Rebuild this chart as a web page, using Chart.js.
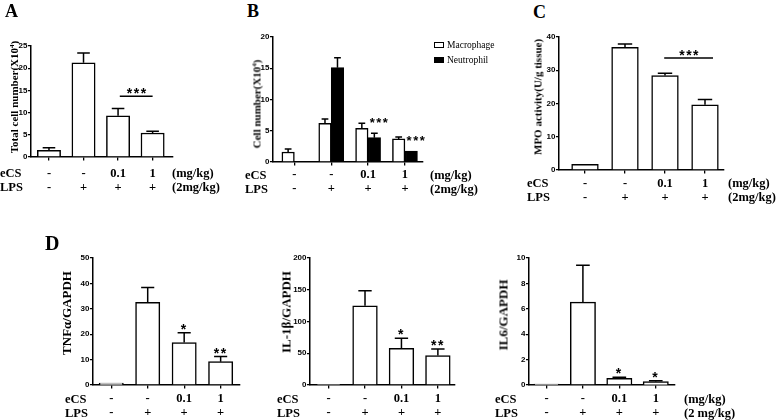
<!DOCTYPE html>
<html><head><meta charset="utf-8">
<script src="https://cdn.jsdelivr.net/npm/chart.js@4.4.0/dist/chart.umd.min.js"></script>
<style>
html,body{margin:0;padding:0;background:#fff;}
#wrap{position:relative;width:778px;height:420px;overflow:hidden;background:#fff;}
canvas{position:absolute;}
.t{position:absolute;font-family:'Liberation Serif','Times New Roman',serif;font-weight:bold;color:#000;white-space:nowrap;line-height:14px;font-size:12.5px;}
.rot{position:absolute;font-family:'Liberation Serif','Times New Roman',serif;font-weight:bold;white-space:nowrap;line-height:1;color:#000;transform:translate(-50%,-50%) rotate(-90deg);}
.letter{position:absolute;font-family:'Liberation Serif','Times New Roman',serif;font-weight:bold;line-height:1;color:#000;}
.sup{font-size:7px;vertical-align:4px;}
.leg{position:absolute;font-family:'Liberation Serif','Times New Roman',serif;font-size:9.5px;line-height:12px;color:#000;white-space:nowrap;}
.box{position:absolute;box-sizing:border-box;border:1.3px solid #000;}
</style></head><body><div id="wrap"></div>
<script>
// ---- data ----
const eCS = ['-', '-', '0.1', '1'];
const LPS = ['-', '+', '+', '+'];
const seriesNames = ['Macrophage', 'Neutrophil'];

const totalCells = [1.5, 21.2, 9.3, 5.4];
const totalCellsErr = [0.6, 2.2, 1.6, 0.4];
const sigA = {from: 2.05, to: 3.0, value: 13.7, text: '***'};

const macrophage = [1.6, 6.2, 5.4, 3.7];
const macrophageErr = [0.5, 0.7, 0.8, 0.3];
const neutrophil = [null, 15.1, 3.9, 1.75];
const neutrophilErr = [0, 1.6, 0.7, 0];
const neutrophilSig = ['', '', '***', '***'];

const mpo = [1.7, 36.9, 28.4, 19.6];
const mpoErr = [0, 1.0, 0.7, 1.6];
const sigC = {from: 1.98, to: 3.2, value: 33.7, text: '***'};

const tnf = [0.8, 32.5, 16.7, 9.2];
const tnfErr = [0.2, 5.9, 3.9, 2.0];
const tnfSig = ['', '', '*', '**'];

const il1b = [1, 124.7, 57.9, 46.3];
const il1bErr = [0, 23.7, 15.8, 10.5];
const il1bSig = ['', '', '*', '**'];

const il6 = [0.08, 6.53, 0.53, 0.26];
const il6Err = [0.02, 2.89, 0.09, 0.07];
const il6Sig = ['', '', '*', '*'];

// ---- drawing ----
const wrap = document.getElementById('wrap');

const annot = {
  id: 'annot',
  afterDatasetsDraw(chart, args, opts) {
    const ctx = chart.ctx;
    const ys = chart.scales.y, xs = chart.scales.x;
    chart.data.datasets.forEach((ds, di) => {
      const meta = chart.getDatasetMeta(di);
      meta.data.forEach((bar, i) => {
        const v = ds.data[i].y;
        if (v === null || v === undefined) return;
        const e = ds.err ? (ds.err[i] || 0) : 0;
        const w = bar.width;
        const top = ys.getPixelForValue(v);
        const capY = ys.getPixelForValue(v + e);
        ctx.save();
        ctx.strokeStyle = '#000';
        ctx.lineWidth = 1.5;
        if (top - capY > 0.6) {
          ctx.beginPath();
          ctx.moveTo(bar.x, top); ctx.lineTo(bar.x, capY);
          ctx.moveTo(bar.x - w * 0.27, capY); ctx.lineTo(bar.x + w * 0.27, capY);
          ctx.stroke();
        }
        const s = ds.sig ? ds.sig[i] : '';
        if (s) {
          ctx.font = 'bold ' + opts.starSize + 'px "Liberation Sans", Arial, sans-serif';
          ctx.letterSpacing = '1.5px';
          ctx.textAlign = 'center';
          ctx.textBaseline = 'alphabetic';
          ctx.fillStyle = '#000';
          ctx.fillText(s, bar.x + opts.starDx * w, capY + opts.starDy);
        }
        ctx.restore();
      });
    });
    const b = opts.bracket;
    if (b) {
      const y = ys.getPixelForValue(b.value);
      const x1 = xs.getPixelForValue(b.from), x2 = xs.getPixelForValue(b.to);
      ctx.save();
      ctx.strokeStyle = '#000'; ctx.lineWidth = 1.5;
      ctx.beginPath(); ctx.moveTo(x1, y); ctx.lineTo(x2, y); ctx.stroke();
      ctx.font = 'bold 14px "Liberation Sans", Arial, sans-serif';
      ctx.letterSpacing = '1.5px';
      ctx.textAlign = 'center'; ctx.textBaseline = 'alphabetic'; ctx.fillStyle = '#000';
      ctx.fillText(b.text, (x1 + x2) / 2 + 1, y + 2);
      ctx.restore();
    }
  }
};

function panel(p) {
  const yW = 30, padTop = 14, xH = 44;
  const left = p.axisX - yW, top = p.topY - padTop;
  const width = Math.round(yW + (p.endX - p.axisX) + p.padR);
  const height = Math.round(padTop + (p.zeroY - p.topY) + xH);
  const cv = document.createElement('canvas');
  cv.style.left = left + 'px'; cv.style.top = top + 'px';
  cv.style.width = width + 'px'; cv.style.height = height + 'px';
  cv.width = width; cv.height = height;
  wrap.appendChild(cv);
  const padRight = width - yW - (p.endX - p.axisX);
  new Chart(cv, {
    type: 'bar',
    data: {
      datasets: p.datasets.map(d => ({
        label: d.label,
        data: d.values.map((v, i) => ({x: i, y: v})),
        err: d.err, sig: d.sig,
        backgroundColor: d.fill, borderColor: '#000', borderWidth: 1.5,
        barThickness: p.barW, grouped: true
      }))
    },
    options: {
      responsive: false, animation: false,
      layout: {padding: {left: 0, top: padTop, right: padRight, bottom: 0}},
      plugins: {
        legend: {display: false}, tooltip: {enabled: false},
        annot: {starSize: p.starSize || 14, starDx: p.starDx || 0, starDy: p.starDy === undefined ? 1 : p.starDy, bracket: p.bracket}
      },
      scales: {
        x: {
          type: 'linear', min: p.xmin, max: p.xmax, offset: false,
          afterBuildTicks: s => { s.ticks = eCS.map((_, i) => ({value: i})); },
          afterFit: s => { s.height = xH; },
          grid: {display: true, offset: false, drawOnChartArea: false, drawTicks: true, tickLength: 3.5, color: '#000', lineWidth: 1.3},
          border: {display: true, color: '#000', width: 1.5},
          ticks: {
            autoSkip: false, maxRotation: 0, minRotation: 0, padding: p.tickPad, color: '#000',
            font: {family: '"Liberation Serif", "Times New Roman", serif', weight: 'bold', size: 12.5, lineHeight: '14px'},
            callback: v => [eCS[v], LPS[v]]
          }
        },
        y: {
          type: 'linear', min: 0, max: p.ymax,
          afterFit: s => { s.width = yW; },
          grid: {drawOnChartArea: false, drawTicks: true, tickLength: 3, color: '#000', lineWidth: 1.3},
          border: {display: true, color: '#000', width: 1.5},
          ticks: {stepSize: p.step, padding: 0.5, color: '#000',
            font: {family: '"Liberation Sans Narrow", "Liberation Sans", Arial, sans-serif', weight: 'bold', size: 8}}
        }
      }
    },
    plugins: [annot]
  });
}

const white = '#ffffff', black = '#000000';

panel({axisX: 31, topY: 45.7, zeroY: 156.7, endX: 173, xmin: -0.52, xmax: 3.59, ymax: 25, step: 5,
  barW: 23.3, padR: 6, tickPad: 5.8, bracket: sigA,
  datasets: [{label: 'Total', values: totalCells, err: totalCellsErr, fill: white}]});

panel({axisX: 273, topY: 37, zeroY: 162.3, endX: 423, xmin: -0.58, xmax: 3.49, ymax: 20, step: 5,
  barW: 12.5, padR: 14, tickPad: 2.2, starSize: 13, starDx: 0.42, starDy: -6.5,
  datasets: [
    {label: seriesNames[0], values: macrophage, err: macrophageErr, fill: white},
    {label: seriesNames[1], values: neutrophil, err: neutrophilErr, sig: neutrophilSig, fill: black}
  ]});

panel({axisX: 559, topY: 36.5, zeroY: 169.3, endX: 724, xmin: -0.65, xmax: 3.475, ymax: 40, step: 10,
  barW: 26.7, padR: 6, tickPad: 2.9, bracket: sigC,
  datasets: [{label: 'MPO', values: mpo, err: mpoErr, fill: white}]});

panel({axisX: 92.7, topY: 258.3, zeroY: 385, endX: 239.3, xmin: -0.5, xmax: 3.52, ymax: 50, step: 10,
  barW: 24.3, padR: 6, tickPad: 3.5,
  datasets: [{label: 'TNF', values: tnf, err: tnfErr, sig: tnfSig, fill: white}]});

panel({axisX: 310, topY: 258.3, zeroY: 385, endX: 455, xmin: -0.51, xmax: 3.47, ymax: 200, step: 50,
  barW: 24.7, padR: 6, tickPad: 3.5,
  datasets: [{label: 'IL1b', values: il1b, err: il1bErr, sig: il1bSig, fill: white}]});

panel({axisX: 529.3, topY: 258.3, zeroY: 385, endX: 675, xmin: -0.48, xmax: 3.52, ymax: 10, step: 2,
  barW: 25.3, padR: 6, tickPad: 3.5,
  datasets: [{label: 'IL6', values: il6, err: il6Err, sig: il6Sig, fill: white}]});

// ---- text labels ----
function txt(cls, html, left, top, extra) {
  const d = document.createElement('div');
  d.className = cls; d.innerHTML = html;
  d.style.left = left + 'px'; d.style.top = top + 'px';
  if (extra) Object.assign(d.style, extra);
  wrap.appendChild(d);
  return d;
}
function rows(left, y1, y2) {
  txt('t', 'eCS', left, y1 - 7);
  txt('t', 'LPS', left, y2 - 7);
}
function units(left, y1, y2, u1, u2) {
  txt('t', u1, left, y1 - 7);
  txt('t', u2, left, y2 - 7);
}
rows(0, 173, 187); units(172, 173, 187, '(mg/kg)', '(2mg/kg)');
rows(245, 175, 189); units(430, 175, 189, '(mg/kg)', '(2mg/kg)');
rows(527, 182.7, 196.7); units(728, 182.7, 196.7, '(mg/kg)', '(2mg/kg)');
rows(65, 399, 413);
rows(277, 399, 413);
rows(495, 399, 413); units(684, 399, 413, '(mg/kg)', '(2 mg/kg)');

txt('rot', 'Total cell number(X10<span class="sup">4</span>)', 13.5, 97, {fontSize: '11px'});
txt('rot', 'Cell number(X10<span class="sup">4</span>)', 257, 104, {fontSize: '11px'});
txt('rot', 'MPO activity(U/g tissue)', 537.5, 97, {fontSize: '11px'});
txt('rot', 'TNF&alpha;/GAPDH', 65.5, 313, {fontSize: '13px'});
txt('rot', 'IL-1&beta;/GAPDH', 286, 312, {fontSize: '13px'});
txt('rot', 'IL6/GAPDH', 503, 315, {fontSize: '13px'});

txt('letter', 'A', 5, 1.5, {fontSize: '18px'});
txt('letter', 'B', 247, 1.5, {fontSize: '18px'});
txt('letter', 'C', 533, 3.4, {fontSize: '18px'});
txt('letter', 'D', 45, 233, {fontSize: '20px'});

// legend for panel B
const legFills = [white, black];
seriesNames.forEach((n, i) => {
  const y = i === 0 ? 41.7 : 57;
  const b = document.createElement('div');
  b.className = 'box';
  Object.assign(b.style, {left: '434px', top: y + 'px', width: '10px', height: '6px', background: legFills[i]});
  wrap.appendChild(b);
  txt('leg', n, 447, y + 3 - 6);
});
</script></body></html>
